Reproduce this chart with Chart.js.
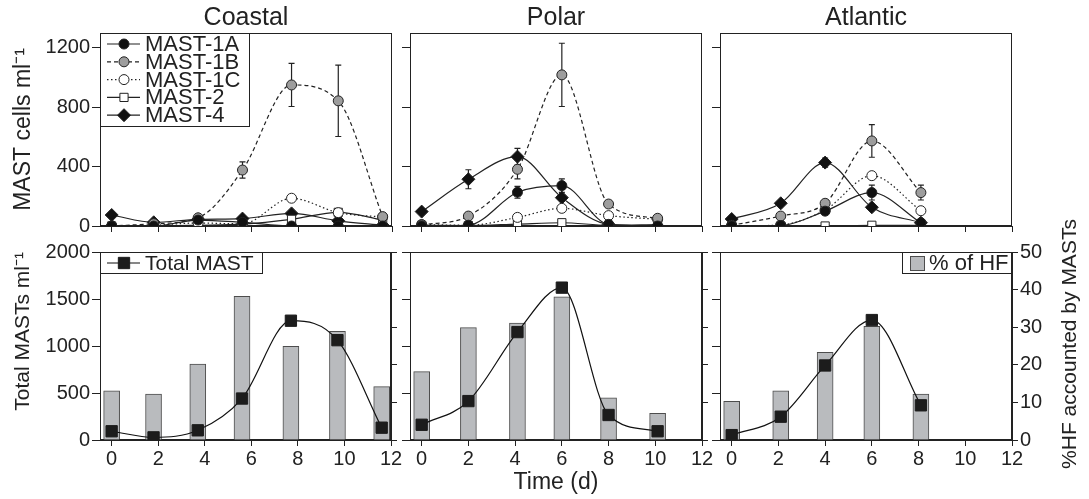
<!DOCTYPE html>
<html>
<head>
<meta charset="utf-8">
<script src="https://cdn.jsdelivr.net/npm/chart.js@4.4.1/dist/chart.umd.min.js"></script>
<style>
  html, body { margin: 0; padding: 0; background: #fff; overflow: hidden; }
  #wrap { position: relative; width: 1089px; height: 499px; }
  #wrap canvas { position: absolute; }
</style>
</head>
<body>
<div id="wrap"></div>
<script>
// axis ticks
const dayTicks = [0, 2, 4, 6, 8, 10, 12]
const countTicks = [0, 400, 800, 1200]
const totalTicks = [0, 500, 1000, 1500, 2000]
const pctTicks = [0, 10, 20, 30, 40, 50]

const seriesNames = ['MAST-1A', 'MAST-1B', 'MAST-1C', 'MAST-2', 'MAST-4']

// Coastal
const coastalDays = [0, 1.8, 3.7, 5.6, 7.7, 9.7, 11.6]
const coastal1A = [0, 0, 40, 25, 0, 0, 0]
const coastal1B = [0, 15, 55, 377, 950, 843, 63]
const coastal1C = [0, 5, 20, 15, 187, 90, 60]
const coastal2 = [0, 0, 5, 13, 45, 92, 40]
const coastal4 = [74, 25, 45, 50, 85, 35, 5]
const coastalErr1A = [0, 0, 0, 0, 0, 0, 0]
const coastalErr1B = [0, 0, 0, 55, 145, 240, 0]
const coastalErr4 = [0, 0, 0, 0, 0, 0, 0]
const coastalTotal = [93, 28, 103, 441, 1269, 1062, 131]
const coastalPctHF = [13.1, 12.2, 20.2, 38.2, 24.9, 28.9, 14.2]

// Polar
const polarDays = [0, 2, 4.1, 6, 8, 10.1]
const polar1A = [0, 5, 227, 272, 11, 0]
const polar1B = [7, 67, 382, 1018, 148, 52]
const polar1C = [10, 5, 58, 119, 70, 45]
const polar2 = [5, 3, 13, 22, 5, 10]
const polar4 = [97, 315, 467, 191, 11, 0]
const polarErr1A = [0, 0, 40, 45, 0, 0]
const polarErr1B = [0, 0, 65, 213, 0, 0]
const polarErr4 = [0, 64, 56, 0, 0, 0]
const polarTotal = [162, 414, 1148, 1621, 266, 93]
const polarPctHF = [18.2, 29.9, 31.1, 38.1, 11.2, 7.1]

// Atlantic
const atlanticDays = [0, 2.1, 4, 6, 8.1]
const atlantic1A = [0, 3, 100, 225, 22]
const atlantic1B = [5, 67, 153, 573, 225]
const atlantic1C = [0, 8, 108, 339, 103]
const atlantic2 = [0, 0, 0, 5, 5]
const atlantic4 = [47, 153, 427, 126, 22]
const atlanticErr1A = [0, 0, 0, 50, 0]
const atlanticErr1B = [0, 0, 0, 110, 50]
const atlanticErr4 = [0, 0, 30, 0, 0]
const atlanticTotal = [52, 248, 793, 1276, 369]
const atlanticPctHF = [10.3, 13.1, 23.3, 30.2, 12.2]

const ink = '#222'
const family = '"Liberation Sans", Arial, Helvetica, sans-serif'
Chart.defaults.font.family = family
Chart.defaults.color = ink

const drawPoint = Chart.helpers && Chart.helpers.drawPoint

// frame round the plot area
const framePlugin = {
  id: 'frame',
  beforeDatasetsDraw(chart) {
    const { ctx, chartArea: ca } = chart
    ctx.save()
    ctx.strokeStyle = ink
    ctx.lineWidth = 1
    ctx.strokeRect(Math.round(ca.left) + 0.5, Math.round(ca.top) + 0.5,
      Math.round(ca.right - ca.left) - 1, Math.round(ca.bottom - ca.top) - 1)
    ctx.restore()
  }
}

// vertical error bars, read from dataset.errors
const errorPlugin = {
  id: 'errorBars',
  beforeDatasetsDraw(chart) {
    const { ctx, scales } = chart
    ctx.save()
    ctx.strokeStyle = ink
    ctx.lineWidth = 1.2
    chart.data.datasets.forEach(ds => {
      if (!ds.errors) return
      const ys = scales[ds.yAxisID || 'y']
      ds.data.forEach((p, i) => {
        const e = ds.errors[i]
        if (!e) return
        const px = scales.x.getPixelForValue(p.x)
        const y1 = ys.getPixelForValue(p.y + e)
        const y2 = ys.getPixelForValue(p.y - e)
        ctx.beginPath()
        ctx.moveTo(px, y1); ctx.lineTo(px, y2)
        ctx.moveTo(px - 3, y1); ctx.lineTo(px + 3, y1)
        ctx.moveTo(px - 3, y2); ctx.lineTo(px + 3, y2)
        ctx.stroke()
      })
    })
    ctx.restore()
  }
}

// boxed legend inside the plot
const legendPlugin = {
  id: 'boxLegend',
  afterDatasetsDraw(chart, args, opts) {
    if (!opts || !opts.items) return
    const { ctx, chartArea: ca } = chart
    const x0 = Math.round(opts.right ? ca.right - opts.width : ca.left)
    const y0 = Math.round(ca.top)
    ctx.save()
    ctx.fillStyle = '#fff'
    ctx.fillRect(x0, y0, opts.width, opts.height)
    ctx.strokeStyle = ink
    ctx.lineWidth = 1
    ctx.strokeRect(x0 + 0.5, y0 + 0.5, opts.width - 1, opts.height - 1)
    ctx.font = opts.size + 'px ' + family
    ctx.textBaseline = 'middle'
    ctx.textAlign = 'left'
    opts.items.forEach((idx, k) => {
      const ds = chart.data.datasets[idx]
      const cy = y0 + opts.first + k * opts.step
      let tx
      if (ds.type === 'bar') {
        ctx.fillStyle = ds.backgroundColor
        ctx.strokeStyle = ds.borderColor
        ctx.fillRect(x0 + 8, cy - 7, 15, 15)
        ctx.strokeRect(x0 + 8.5, cy - 6.5, 14, 14)
        tx = x0 + 27
      } else {
        ctx.strokeStyle = ds.borderColor
        ctx.lineWidth = ds.borderWidth
        ctx.setLineDash(ds.borderDash || [])
        ctx.beginPath()
        ctx.moveTo(x0 + 7, cy); ctx.lineTo(x0 + 40, cy)
        ctx.stroke()
        ctx.setLineDash([])
        ctx.lineWidth = 1
        ctx.fillStyle = ds.pointBackgroundColor
        ctx.strokeStyle = ds.pointBorderColor
        if (drawPoint) {
          drawPoint(ctx, { pointStyle: ds.pointStyle, radius: ds.pointRadius, rotation: 0, borderWidth: 1 }, x0 + 24, cy)
        }
        tx = x0 + 45
      }
      ctx.fillStyle = ink
      ctx.fillText(ds.label, tx, cy + 1)
    })
    ctx.restore()
  }
}

// right-hand axis title, reading upwards
const sideLabelPlugin = {
  id: 'sideLabel',
  afterDraw(chart, args, opts) {
    if (!opts || !opts.text) return
    const { ctx, chartArea: ca } = chart
    ctx.save()
    ctx.translate(opts.x, (ca.top + ca.bottom) / 2 - 2)
    ctx.rotate(-Math.PI / 2)
    ctx.font = opts.size + 'px ' + family
    ctx.fillStyle = ink
    ctx.textAlign = 'center'
    ctx.textBaseline = 'middle'
    ctx.fillText(opts.text, 0, 0)
    ctx.restore()
  }
}

function makeCanvas(left, top, w, h) {
  const c = document.createElement('canvas')
  c.width = w
  c.height = h
  c.style.left = left + 'px'
  c.style.top = top + 'px'
  c.style.width = w + 'px'
  c.style.height = h + 'px'
  document.getElementById('wrap').appendChild(c)
  return c
}

function xScale(showLabels, height, title) {
  return {
    type: 'linear', min: -0.5, max: 12, offset: false,
    afterBuildTicks: s => { s.ticks = dayTicks.map(v => ({ value: v })) },
    afterFit: s => { s.height = height },
    grid: { drawOnChartArea: false, offset: false, tickLength: 6, color: ink },
    border: { color: ink, width: 1 },
    ticks: { display: showLabels, padding: 1, font: { size: 20 }, color: ink, maxRotation: 0, autoSkip: false, callback: v => String(v) },
    title: title
      ? { display: true, text: title, font: { size: 23, lineHeight: 1 }, color: ink, padding: { top: 0, bottom: 5 } }
      : { display: false }
  }
}

function yScale(o) {
  return {
    type: 'linear', position: o.position || 'left', min: 0, max: o.max,
    afterBuildTicks: s => { s.ticks = o.ticks.map(v => ({ value: v })) },
    afterFit: s => { s.width = o.width },
    grid: { drawOnChartArea: false, tickLength: o.tickLength || 8, color: ink },
    border: { color: ink, width: 1 },
    ticks: { display: !!o.labels, padding: 2, font: { size: 20 }, color: ink, callback: v => String(v) },
    title: o.title
      ? { display: true, text: o.title, align: o.align || 'center', font: { size: o.titleSize, lineHeight: 1 }, color: ink, padding: { top: o.titlePad, bottom: 0 } }
      : { display: false }
  }
}

const seriesStyles = [
  { pointStyle: 'circle', pointRadius: 5, pointBackgroundColor: '#111', borderDash: [] },
  { pointStyle: 'circle', pointRadius: 5, pointBackgroundColor: '#9d9d9d', borderDash: [4, 3] },
  { pointStyle: 'circle', pointRadius: 5, pointBackgroundColor: '#fff', borderDash: [1.5, 2.5] },
  { pointStyle: 'rect', pointRadius: 5.8, pointBackgroundColor: '#fff', borderDash: [] },
  { pointStyle: 'rectRot', pointRadius: 6.5, pointBackgroundColor: '#111', borderDash: [] }
]

function seriesSets(days, cols, errs) {
  return cols.map((vals, k) => Object.assign({
    label: seriesNames[k],
    data: days.map((d, i) => ({ x: d, y: vals[i] })),
    errors: errs[k],
    borderColor: ink,
    borderWidth: 1.2,
    pointBorderColor: ink,
    pointBorderWidth: 1,
    cubicInterpolationMode: 'monotone',
    fill: false
  }, seriesStyles[k]))
}

function topChart(left, title, days, cols, errs, first) {
  const canvas = makeCanvas(left, 0, 402, 240)
  return new Chart(canvas, {
    type: 'line',
    data: { datasets: seriesSets(days, cols, errs) },
    options: {
      responsive: false,
      animation: false,
      devicePixelRatio: 1,
      layout: { padding: { top: 0, right: 10, bottom: 0, left: 0 } },
      plugins: {
        legend: { display: false },
        tooltip: { enabled: false },
        title: { display: true, text: title, fullSize: false, font: { size: 25, weight: 'normal', lineHeight: 1.2 }, color: ink, padding: { top: 3, bottom: 0 } },
        boxLegend: first ? { items: [0, 1, 2, 3, 4], width: 150, height: 94, first: 11, step: 17.8, size: 22 } : {}
      },
      scales: {
        x: xScale(false, 14),
        y: yScale({ max: 1300, ticks: countTicks, width: 100, labels: first, tickLength: 8,
          title: first ? 'MAST cells ml\u207B\u00B9' : null, titleSize: 23, titlePad: 12 })
      }
    },
    plugins: [framePlugin, errorPlugin, legendPlugin]
  })
}

function bottomChart(left, width, days, totals, pcts, opts) {
  const canvas = makeCanvas(left, 212, width, 287)
  return new Chart(canvas, {
    type: 'bar',
    data: {
      datasets: [
        {
          type: 'line',
          label: 'Total MAST',
          yAxisID: 'y',
          order: 0,
          data: days.map((d, i) => ({ x: d, y: totals[i] })),
          borderColor: '#111',
          borderWidth: 1.2,
          pointStyle: 'rect',
          pointRadius: 8,
          pointBackgroundColor: '#1c1c1c',
          pointBorderColor: '#1c1c1c',
          pointBorderWidth: 1,
          cubicInterpolationMode: 'monotone',
          fill: false
        },
        {
          type: 'bar',
          label: '% of HF',
          yAxisID: 'y2',
          order: 1,
          data: days.map((d, i) => ({ x: d, y: pcts[i] })),
          barThickness: 16,
          backgroundColor: '#b9bbbe',
          borderColor: '#4d4d4d',
          borderWidth: 1
        }
      ]
    },
    options: {
      responsive: false,
      animation: false,
      devicePixelRatio: 1,
      layout: { padding: { top: 40, right: 0, bottom: 0, left: 0 } },
      plugins: {
        legend: { display: false },
        tooltip: { enabled: false },
        boxLegend: opts.legend || {},
        sideLabel: opts.side || {}
      },
      scales: {
        x: xScale(true, 59, opts.xTitle),
        y: yScale({ max: 2000, ticks: totalTicks, width: 100, labels: opts.leftLabels, tickLength: 8,
          title: opts.leftLabels ? 'Total MASTs ml\u207B\u00B9' : null, titleSize: 21, titlePad: 13, align: 'end' }),
        y2: yScale({ position: 'right', max: 50, ticks: pctTicks, width: opts.rightWidth, labels: opts.rightLabels, tickLength: 6 })
      }
    },
    plugins: [framePlugin, legendPlugin, sideLabelPlugin]
  })
}

topChart(0, 'Coastal', coastalDays,
  [coastal1A, coastal1B, coastal1C, coastal2, coastal4],
  [coastalErr1A, coastalErr1B, null, null, coastalErr4], true)
topChart(310, 'Polar', polarDays,
  [polar1A, polar1B, polar1C, polar2, polar4],
  [polarErr1A, polarErr1B, null, null, polarErr4], false)
topChart(620, 'Atlantic', atlanticDays,
  [atlantic1A, atlantic1B, atlantic1C, atlantic2, atlantic4],
  [atlanticErr1A, atlanticErr1B, null, null, atlanticErr4], false)

bottomChart(0, 410, coastalDays, coastalTotal, coastalPctHF, {
  leftLabels: true, rightWidth: 19,
  legend: { items: [0], width: 163, height: 22, first: 11, step: 0, size: 21 }
})
bottomChart(310, 411, polarDays, polarTotal, polarPctHF, {
  rightWidth: 19, xTitle: 'Time (d)'
})
bottomChart(620, 469, atlanticDays, atlanticTotal, atlanticPctHF, {
  rightWidth: 77, rightLabels: true,
  legend: { items: [1], right: true, width: 110, height: 22, first: 11, step: 0, size: 22 },
  side: { text: '%HF accounted by MASTs', x: 450, size: 21 }
})
</script>
</body>
</html>
